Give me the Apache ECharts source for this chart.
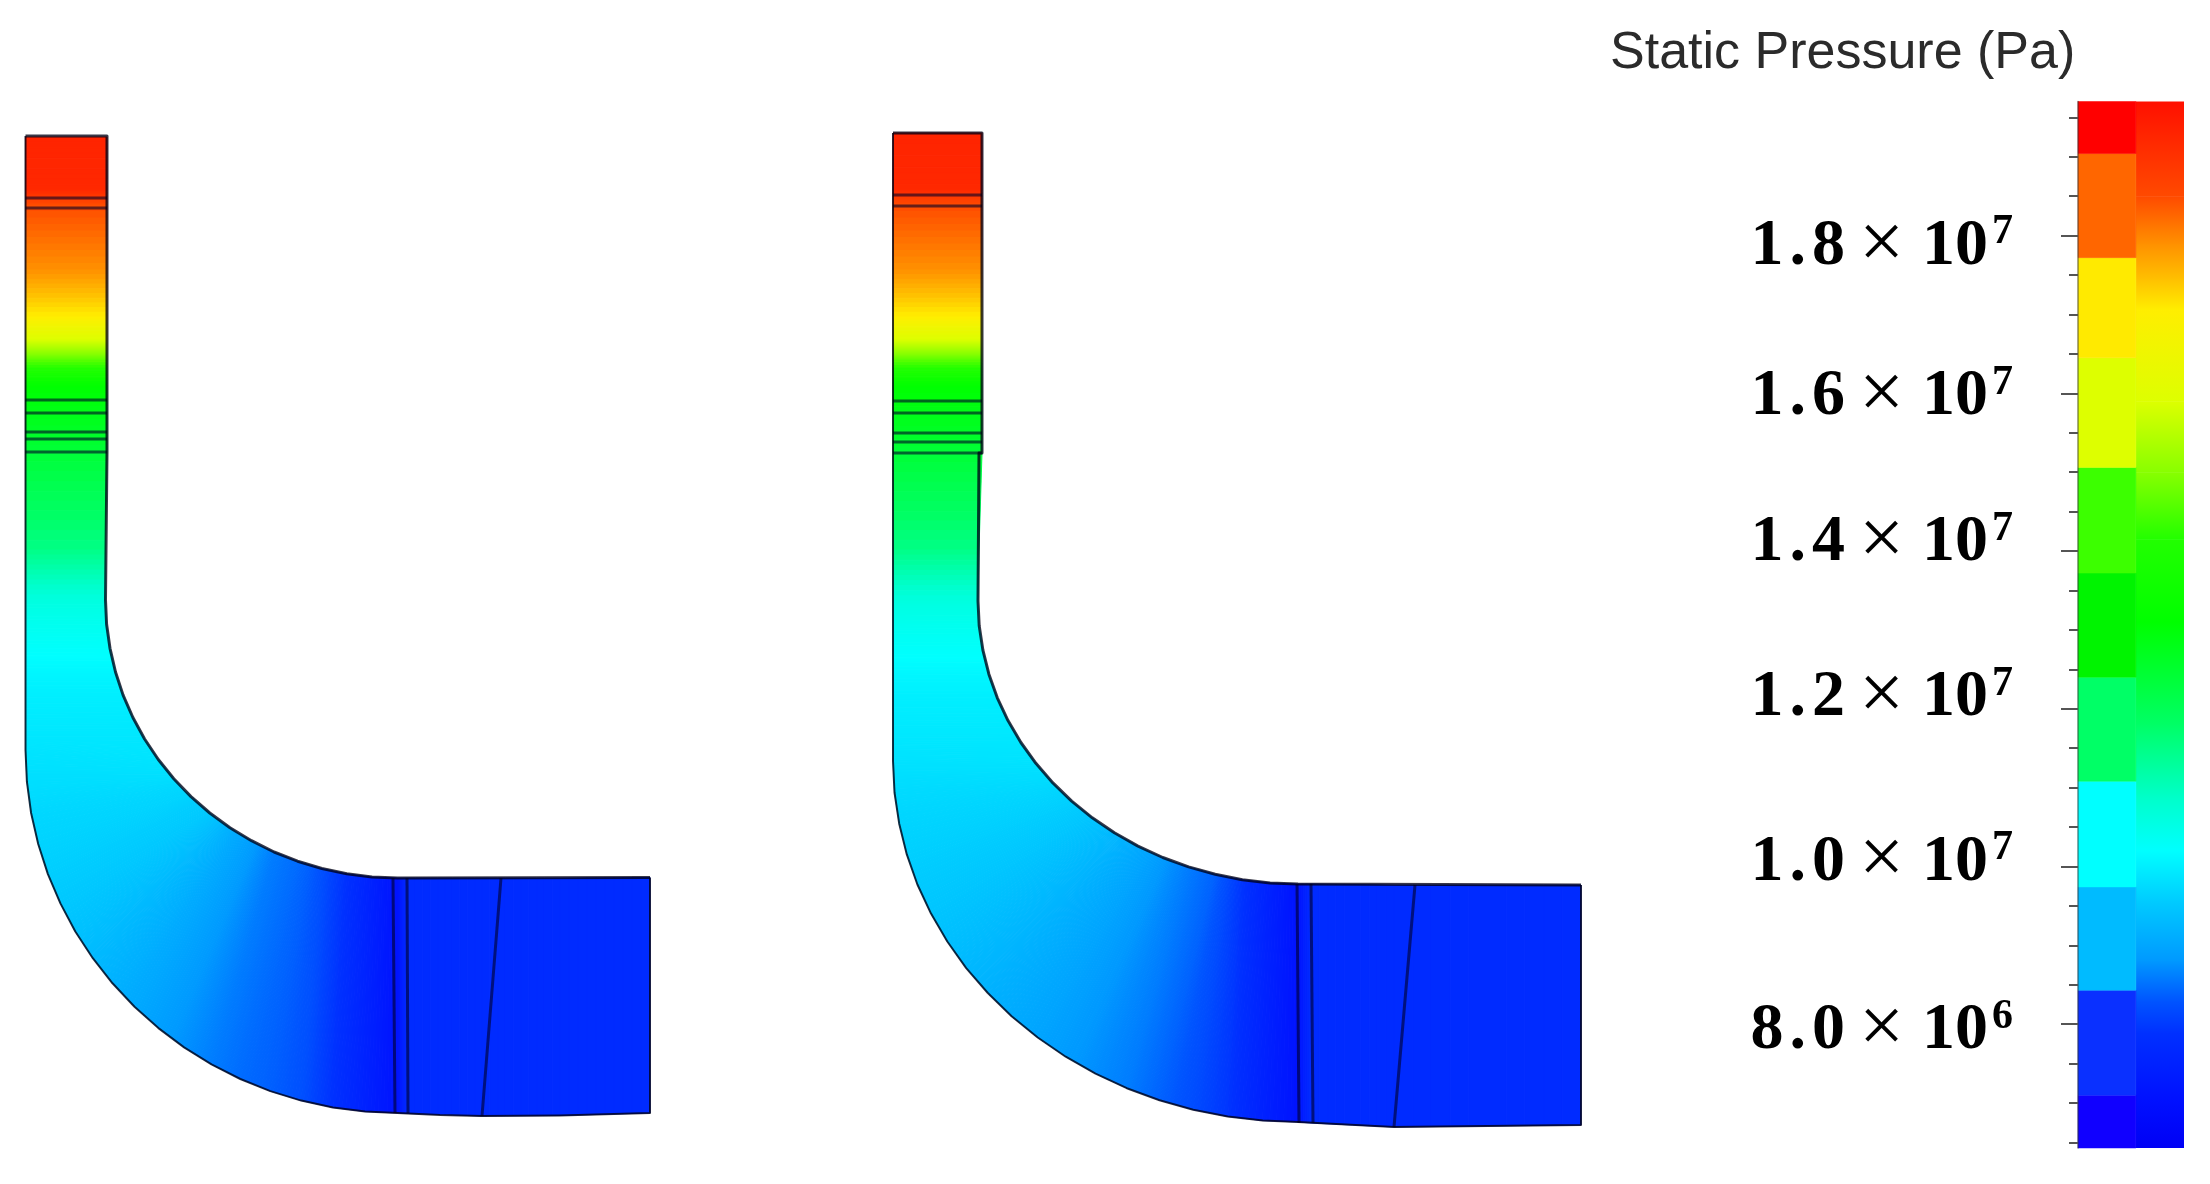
<!DOCTYPE html>
<html><head><meta charset="utf-8">
<style>html,body{margin:0;padding:0;background:#fff}#c{width:2210px;height:1184px}</style>
<script src="https://cdn.jsdelivr.net/npm/echarts@6/dist/echarts.min.js"></script>
</head><body><div id="c"></div>
<script>
const scaleValues = [6.43e6,7.04e6,7.89e6,8.30e6,8.81e6,9.57e6,1.02e7,1.085e7,1.18e7,1.31e7,1.415e7,1.50e7,1.59e7,1.706e7,1.745e7,1.79e7,1.85e7,1.97e7];
const scaleColors = ['#0000f5','#0010ff','#0030ff','#0055ff','#0099ff','#00ccff','#00ffff','#00ffcc','#00ff66','#00ff00','#22ff00','#88ff00','#ddff00','#ffee00','#ffc000','#ff9000','#ff4a00','#ff1000'];
// ---- stepped legend column
const bandEdges = [6.43e6,7.10e6,8.43e6,9.74e6,1.108e7,1.24e7,1.372e7,1.506e7,1.645e7,1.772e7,1.904e7,1.97e7];
const bandColors = ['#1000ff','#0a30ff','#00bbff','#00ffff','#00ff66','#00f400','#3cff00','#ddff00','#ffea00','#ff6600','#ff0000'];
// ---- legend ticks
const minorTicks = [6.5e6,7e6,7.5e6,8.5e6,9e6,9.5e6,1.05e7,1.1e7,1.15e7,1.25e7,1.3e7,1.35e7,1.45e7,1.5e7,1.55e7,1.65e7,1.7e7,1.75e7,1.85e7,1.9e7,1.95e7];
const majorTicks = [8e6,1e7,1.2e7,1.4e7,1.6e7,1.8e7];
const tickMantissa = ['8.0','1.0','1.2','1.4','1.6','1.8'];
const tickExponent = ['6','7','7','7','7','7'];
const legendTitle = 'Static Pressure (Pa)';

// ---- left duct: stations across the passage (inner wall point, outer wall point, pressure)
const aInnerX = [107,107,107,107,107,107,107,107,107,105.5,105.5,106.6,110,115.5,123.1,132.9,144.6,158.3,173.8,182,191,197,209.8,216,223,230,238,251.5,262,274.1,297.6,310,321.9,346.8,372,397.5,408,482,560,650];
const aInnerY = [137,190,205,270,317,340,360,387,452,550,600,624.2,648.3,672,695.1,717.5,739,759.5,778.7,788,796.6,802,813,818,823,827.7,833,840.7,846.5,852,861.2,865,868.5,873.8,877,878,878,878,878,877.5];
const aOuterX = [25.5,25.5,25.5,25.5,25.5,25.5,25.5,25.5,25.5,25.5,25.5,25.5,25.5,25.5,25.5,25.5,25.5,25.5,26.9,31.1,38.2,47.9,60.4,75.3,92.8,112.5,134.5,158.4,184.1,211.5,240.3,270.3,301.2,332.9,365.1,397.5,408,482,560,650];
const aOuterY = [137,190,205,270,317,340,360,387,452,550,600,624,648,672,695,717,739,750,781.7,813,844,874.1,903.4,931.5,958.2,983.3,1006.7,1028.1,1047.4,1064.4,1079,1091.1,1100.6,1107.5,1111.6,1113,1113.5,1116,1115.5,1113];
const aPressure = [1.93e7,1.92e7,1.85e7,1.79e7,1.706e7,1.59e7,1.465e7,1.31e7,1.24e7,1.15e7,1.06e7,1.04e7,1.025e7,1.01e7,1.0e7,9.95e6,9.9e6,9.87e6,9.8e6,9.72e6,9.66e6,9.6e6,9.52e6,9.42e6,9.3e6,9.18e6,9.05e6,8.9e6,8.75e6,8.6e6,8.47e6,8.38e6,8.25e6,7.9e6,7.5e6,7.1e6,7.75e6,7.75e6,7.75e6,7.75e6];
const aWallOuter = [[25.5,136],[25.5,750],[26.9,781.7],[31.1,813],[38.2,844],[47.9,874.1],[60.4,903.4],[75.3,931.5],[92.8,958.2],[112.5,983.3],[134.5,1006.7],[158.4,1028.1],[184.1,1047.4],[211.5,1064.4],[240.3,1079],[270.3,1091.1],[301.2,1100.6],[332.9,1107.5],[365.1,1111.6],[397.5,1113],[440,1115],[482,1116],[560,1115.5],[650,1113],[650,877.5]];
const aWallInner = [[25.5,136],[107,136],[107,452],[105.5,452],[105.5,600],[106.6,624.2],[110,648.3],[115.5,672],[123.1,695.1],[132.9,717.5],[144.6,739],[158.3,759.5],[173.8,778.7],[191,796.6],[209.8,813],[230,827.7],[251.5,840.7],[274.1,852],[297.6,861.2],[321.9,868.5],[346.8,873.8],[372,877],[397.5,878],[650,877.5]];
const aInterfaces = [[25.5,198,107,198],[25.5,208,107,208],[25.5,400,107,400],[25.5,413,107,413],[25.5,432,107,432],[25.5,439,107,439],[25.5,452,107,452],[393,878,395,1113],[407,878,408,1113],[501,878,482,1116]];

// ---- right duct
const bInnerX = [982,982,982,982,982,982,982,982,982,979,978,979.2,982.9,988.9,997.3,1008,1020.9,1035.9,1052.9,1062,1071.7,1082,1092.3,1103,1114.4,1126,1138,1150,1162.8,1175,1188.6,1215.2,1228,1242.4,1270.1,1298,1311,1394,1581];
const bInnerY = [133,190,205,270,317,340,360,387,453,550,601,625.7,650.1,674.2,697.8,720.6,742.5,763.3,782.9,792,801.1,809.5,817.8,825.5,832.8,839.5,846.1,852,857.5,862.3,866.9,874.3,877,879.7,882.9,884,884,885,885];
const bOuterX = [893,893,893,893,893,893,893,893,893,893,893,893,893,893,893,893,893,893,894.5,899.2,906.8,917.4,931,947.3,966.2,987.8,1011.6,1037.7,1065.7,1095.5,1126.8,1159.5,1193.2,1227.7,1262.7,1298,1311,1394,1581];
const bOuterY = [133,190,205,270,317,340,360,387,453,550,601,626,650,674,698,721,742,761,792.5,823.7,854.4,884.5,913.6,941.5,968.1,993,1016.3,1037.5,1056.7,1073.6,1088.2,1100.2,1109.7,1116.5,1120.6,1122,1123,1127,1125];
const bPressure = [1.93e7,1.92e7,1.85e7,1.79e7,1.706e7,1.59e7,1.465e7,1.31e7,1.24e7,1.15e7,1.06e7,1.04e7,1.025e7,1.01e7,1.0e7,9.95e6,9.9e6,9.85e6,9.75e6,9.68e6,9.62e6,9.55e6,9.47e6,9.38e6,9.28e6,9.18e6,9.08e6,8.98e6,8.85e6,8.72e6,8.6e6,8.4e6,8.2e6,7.95e6,7.5e6,7.1e6,7.75e6,7.75e6,7.75e6];
const bWallOuter = [[893,133],[893,761],[894.5,792.5],[899.2,823.7],[906.8,854.4],[917.4,884.5],[931,913.6],[947.3,941.5],[966.2,968.1],[987.8,993],[1011.6,1016.3],[1037.7,1037.5],[1065.7,1056.7],[1095.5,1073.6],[1126.8,1088.2],[1159.5,1100.2],[1193.2,1109.7],[1227.7,1116.5],[1262.7,1120.6],[1298,1122],[1394,1127],[1581,1125],[1581,885]];
const bWallInner = [[893,133],[982,133],[982,453],[979,453],[978,601],[979.2,625.7],[982.9,650.1],[988.9,674.2],[997.3,697.8],[1008,720.6],[1020.9,742.5],[1035.9,763.3],[1052.9,782.9],[1071.7,801.1],[1092.3,817.8],[1114.4,832.8],[1138,846.1],[1162.8,857.5],[1188.6,866.9],[1215.2,874.3],[1242.4,879.7],[1270.1,882.9],[1298,884],[1581,885]];
const bInterfaces = [[893,195,982,195],[893,206,982,206],[893,401,982,401],[893,413,982,413],[893,433,982,433],[893,442,982,442],[893,453,982,453],[1297,884,1299,1123],[1311,884,1313,1123],[1415,885,1394,1127]];

// ---- helpers
const hex = c => [1,3,5].map(i => parseInt(c.substr(i,2),16));
function colorOf(v){
  if(v<=scaleValues[0]) return scaleColors[0];
  for(let i=1;i<scaleValues.length;i++){
    if(v<=scaleValues[i]){
      const t=(v-scaleValues[i-1])/(scaleValues[i]-scaleValues[i-1]);
      const a=hex(scaleColors[i-1]), b=hex(scaleColors[i]);
      return 'rgb('+a.map((x,k)=>Math.round(x+(b[k]-x)*t)).join(',')+')';
    }
  }
  return scaleColors[scaleColors.length-1];
}
const STRIPS = 10;
function ductSeries(ix,iy,ox,oy,p){
  const data=[];
  for(let i=0;i<p.length-1;i++) data.push([ix[i],iy[i],ox[i],oy[i],ix[i+1],iy[i+1],ox[i+1],oy[i+1],p[i],p[i+1]]);
  return {type:'custom',xAxisIndex:0,yAxisIndex:0,silent:true,z:2,clip:false,data,
    encode:{x:[0,2,4,6],y:[1,3,5,7]},
    renderItem(params,api){
      const v=[];for(let k=0;k<10;k++)v.push(api.value(k));
      const children=[];
      const P=(a,b,t)=>a+(b-a)*t;
      for(let s=0;s<STRIPS;s++){
        const t0=s/STRIPS,t1=(s+1)/STRIPS;
        const pts=[
          api.coord([P(v[0],v[4],t0),P(v[1],v[5],t0)]),
          api.coord([P(v[0],v[4],t1),P(v[1],v[5],t1)]),
          api.coord([P(v[2],v[6],t1),P(v[3],v[7],t1)]),
          api.coord([P(v[2],v[6],t0),P(v[3],v[7],t0)])];
        const c=colorOf(P(v[8],v[9],(t0+t1)/2));
        children.push({type:'polygon',shape:{points:pts},style:{fill:c,stroke:c,lineWidth:1}});
      }
      return {type:'group',children};
    }};
}
function wall(points,w,color){
  return {type:'line',xAxisIndex:0,yAxisIndex:0,data:points,symbol:'none',silent:true,z:4,clip:false,
    lineStyle:{color:color,width:w,join:'round'}};
}
function interfaces(list){
  return {type:'custom',xAxisIndex:0,yAxisIndex:0,silent:true,z:3,clip:false,data:list,
    encode:{x:[0,2],y:[1,3]},
    renderItem(params,api){
      const a=api.coord([api.value(0),api.value(1)]),b=api.coord([api.value(2),api.value(3)]);
      return {type:'line',shape:{x1:a[0],y1:a[1],x2:b[0],y2:b[1]},style:{stroke:'rgba(0,0,40,0.6)',lineWidth:3}};
    }};
}
// legend columns
const bandData=bandColors.map((c,i)=>[bandEdges[i],bandEdges[i+1],c]);
const bandSeries={type:'custom',xAxisIndex:1,yAxisIndex:1,silent:true,z:3,data:bandData,encode:{y:[0,1]},
  renderItem(params,api){
    const a=api.coord([0,api.value(0)]),b=api.coord([1,api.value(1)]);
    const c=bandColors[params.dataIndex];
    return {type:'rect',shape:{x:a[0],y:b[1],width:b[0]-a[0],height:a[1]-b[1]},style:{fill:c,stroke:c,lineWidth:0.5}};
  }};
const smoothData=[];
for(let i=0;i<scaleValues.length-1;i++) smoothData.push([scaleValues[i],scaleValues[i+1]]);
const smoothSeries={type:'custom',xAxisIndex:1,yAxisIndex:1,silent:true,z:2,data:smoothData,encode:{y:[0,1]},
  renderItem(params,api){
    const i=params.dataIndex;
    const p=api.coord([1,api.value(0)]),q=api.coord([1.83,api.value(1)]);
    return {type:'rect',shape:{x:p[0],y:q[1],width:q[0]-p[0],height:p[1]-q[1]+(i>0?0.6:0)},
      style:{fill:new echarts.graphic.LinearGradient(0,1,0,0,[{offset:0,color:scaleColors[i]},{offset:1,color:scaleColors[i+1]}])}};
  }};

// tick label typography (per-label vertical nudges reproduce the reference's hand-placed labels)
const nudgeByValue={8e6:7,1e7:-4,1.2e7:-11,1.4e7:-8,1.6e7:3.5,1.8e7:11};
const rich={};
function pad(shift,l,r){return [Math.max(0,2*shift),r||0,Math.max(0,-2*shift),l||0];}
majorTicks.forEach((v,i)=>{
  const o=nudgeByValue[v];
  const base={fontFamily:'Liberation Serif',fontWeight:'bold',fontSize:66,color:'#000'};
  rich['n'+i]={...base,padding:pad(o)};
  rich['d'+i]={...base,padding:pad(o,6,6)};
  rich['x'+i]={...base,fontWeight:'normal',fontSize:80,padding:pad(o,14,18)};
  rich['s'+i]={...base,fontSize:42,padding:pad(o-14,4,0)};
});
function labelText(v){
  const i=majorTicks.indexOf(v);
  const parts=tickMantissa[i].split('.');
  return `{n${i}|${parts[0]}}{d${i}|.}{n${i}|${parts[1]}}{x${i}|×}{n${i}|10}{s${i}|${tickExponent[i]}}`;
}

const chart=echarts.init(document.getElementById('c'),null,{renderer:'canvas',width:2210,height:1184});
chart.setOption({
  animation:false,
  backgroundColor:'#fff',
  title:{text:legendTitle,left:1605,top:23,textStyle:{fontFamily:'Liberation Sans',fontWeight:'normal',fontSize:52,color:'#2b2b2b'}},
  grid:[
    {left:0,top:0,width:2210,height:1184},
    {left:2078,top:101.5,width:106,height:1046.5}
  ],
  xAxis:[
    {type:'value',gridIndex:0,min:0,max:2210,show:false},
    {type:'value',gridIndex:1,min:0,max:1.83,show:false}
  ],
  yAxis:[
    {type:'value',gridIndex:0,min:0,max:1184,inverse:true,show:false},
    {type:'value',gridIndex:1,min:6.43e6,max:1.97e7,position:'left',z:5,splitLine:{show:false},
      axisLine:{show:true,lineStyle:{color:'rgba(50,50,50,0.55)',width:1.5}},
      axisTick:{show:true,customValues:minorTicks,length:9,lineStyle:{color:'#555',width:2}},
      axisLabel:{show:false}},
    {type:'value',gridIndex:1,min:6.43e6,max:1.97e7,position:'left',z:5,splitLine:{show:false},
      axisLine:{show:false},
      axisTick:{show:true,customValues:majorTicks,length:17,lineStyle:{color:'#555',width:2}},
      axisLabel:{show:true,customValues:majorTicks,margin:65,formatter:labelText,rich,align:'right',verticalAlign:'middle'}}
  ],
  series:[
    ductSeries(aInnerX,aInnerY,aOuterX,aOuterY,aPressure),
    ductSeries(bInnerX,bInnerY,bOuterX,bOuterY,bPressure),
    interfaces(aInterfaces),
    interfaces(bInterfaces),
    wall(aWallOuter,2,'rgba(0,0,20,0.8)'),
    wall(aWallInner,3,'rgba(0,0,20,0.78)'),
    wall(bWallOuter,2,'rgba(0,0,20,0.8)'),
    wall(bWallInner,3,'rgba(0,0,20,0.78)'),
    smoothSeries,
    bandSeries
  ]
});
</script></body></html>
